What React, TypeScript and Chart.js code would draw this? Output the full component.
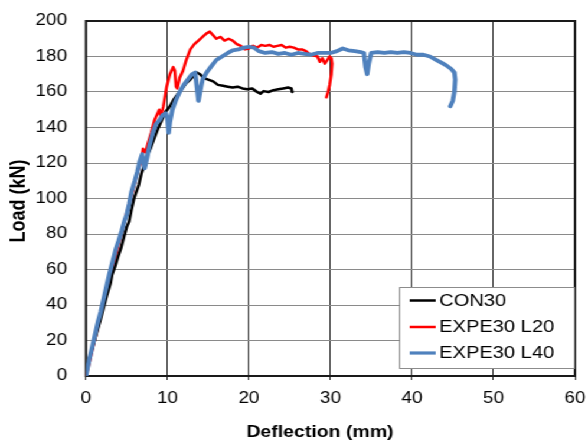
import { useEffect, useRef } from 'react';
import { Chart, registerables } from 'chart.js';

Chart.register(...registerables);

// ---- Data ----
const xTicks = [0, 10, 20, 30, 40, 50, 60];
const yTicks = [0, 20, 40, 60, 80, 100, 120, 140, 160, 180, 200];

const seriesLabels = ['CON30', 'EXPE30 L20', 'EXPE30 L40'];
const xTitle = 'Deflection (mm)';
const yTitle = 'Load (kN)';

const con30X = [0, 0.3, 0.8, 1.3, 1.8, 2.2, 2.6, 3.0, 3.2, 3.6, 4.0, 4.3, 4.7, 5.0, 5.3, 5.6, 5.9, 6.2, 6.5, 6.8, 7.1, 7.5, 7.9, 8.3, 8.8, 9.3, 9.8, 10.3, 10.8, 11.3, 11.8, 12.3, 12.8, 13.2, 13.6, 14.0, 14.4, 15.0, 15.6, 16.2, 16.8, 17.4, 18.0, 18.6, 19.2, 19.8, 20.4, 21.0, 21.4, 21.8, 22.4, 23.0, 23.6, 24.2, 24.8, 25.2, 25.3];
const con30Y = [0, 8, 16, 24, 32, 39, 46, 52, 57, 62, 68, 72, 79, 84, 87, 94, 100, 104, 108, 114, 118, 124, 128, 133, 139, 144, 149, 152, 156, 159, 162, 165, 167, 169, 171, 170, 168, 167, 166, 164, 163.5, 163, 162.5, 163, 162, 161.5, 162, 160, 159, 160.5, 160, 161, 161.5, 162, 162.5, 162, 160];

const l20X = [0, 0.5, 1.0, 1.5, 2.0, 2.5, 3.0, 3.5, 4.0, 4.5, 5.0, 5.5, 6.0, 6.4, 6.8, 7.0, 7.3, 7.6, 8.0, 8.4, 8.7, 9.0, 9.2, 9.5, 9.9, 10.3, 10.7, 10.9, 11.05, 11.2, 11.5, 11.9, 12.3, 12.8, 13.3, 13.8, 14.3, 14.8, 15.2, 15.6, 16.0, 16.5, 17.0, 17.5, 18.0, 18.5, 19.0, 19.5, 20.0, 20.5, 21.0, 21.5, 22.0, 22.5, 23.0, 23.5, 24.0, 24.5, 25.0, 25.5, 26.0, 26.5, 27.0, 27.5, 28.0, 28.4, 28.7, 29.0, 29.3, 29.6, 29.9, 30.1, 30.2, 30.1, 29.9, 29.7, 29.5];
const l20Y = [0, 9, 19, 28, 38, 47, 56, 65, 74, 83, 92, 100, 109, 116, 122, 128, 126, 131, 137, 144, 147, 150, 146, 152, 163, 170, 174, 172, 163, 162, 168, 172, 178, 184, 187, 189, 191, 193, 194, 192, 190, 191, 189, 190, 189, 187, 186, 184, 184.5, 186, 185, 186.5, 186, 186.5, 185.5, 186, 186.5, 185, 185.5, 185, 184, 184, 183, 181, 180.5, 180, 177, 179, 176, 178, 180, 179, 176, 170, 164, 160, 157];

const l40X = [0, 0.4, 0.8, 1.2, 1.5, 1.8, 2.2, 2.6, 2.9, 3.3, 3.7, 4.0, 4.4, 4.7, 5.0, 5.3, 5.6, 6.0, 6.3, 6.6, 6.9, 7.2, 7.5, 7.8, 8.2, 8.6, 9.0, 9.4, 9.8, 10.0, 10.15, 10.3, 10.6, 11.0, 11.5, 12.0, 12.5, 13.0, 13.4, 13.6, 13.8, 14.0, 14.3, 14.8, 15.3, 16.0, 16.7, 17.4, 18.0, 18.7, 19.4, 20.0, 20.6, 21.2, 22.0, 22.8, 23.6, 24.4, 25.2, 26.0, 26.8, 27.6, 28.4, 29.2, 30.0, 30.8, 31.5, 32.2, 33.0, 33.7, 34.1, 34.3, 34.5, 34.7, 35.0, 35.8, 36.6, 37.4, 38.2, 39.0, 39.8, 40.6, 41.4, 42.2, 43.0, 43.6, 44.2, 44.8, 45.2, 45.3, 45.2, 45.0, 44.7];
const l40Y = [0, 9, 17, 25, 31, 36, 44, 52, 58, 65, 72, 76, 82, 87, 91, 97, 104, 110, 115, 121, 125, 117, 123, 130, 137, 142, 144, 147, 148, 145, 137, 143, 150, 155, 160, 164, 167, 170, 171, 163, 155, 160, 167, 171, 174, 178, 180, 182, 183.5, 184, 185, 185.5, 185, 183, 182, 182.5, 181.5, 182, 181, 182, 181.5, 181, 182, 182, 182, 183, 184.5, 183.5, 183, 182.5, 182, 174, 170, 176, 182, 182.5, 182, 182.5, 182, 182.5, 182, 181, 181, 180, 178, 176.5, 175, 173, 171, 167, 160, 155, 152];

const toPoints = (xs: number[], ys: number[]) => xs.map((x, i) => ({ x, y: ys[i] }));

// ---- Layout ----
const W = 498;
const H = 446;
const SX = 588 / W;
const FONT = "'Liberation Sans', Arial, sans-serif";

const zeroPadding = (scale: any) => {
  scale.paddingLeft = 0;
  scale.paddingRight = 0;
  scale.paddingTop = 0;
  scale.paddingBottom = 0;
};

const borderPlugin = {
  id: 'plotBorder',
  beforeDatasetsDraw(chart: any) {
    const { ctx, chartArea: a } = chart;
    ctx.save();
    ctx.strokeStyle = '#1a1a1a';
    ctx.lineWidth = 2;
    ctx.strokeRect(a.left, a.top, a.right - a.left, a.bottom - a.top);
    ctx.restore();
  },
};

const titlesPlugin = {
  id: 'axisTitles',
  afterDraw(chart: any) {
    const { ctx } = chart;
    ctx.save();
    ctx.fillStyle = '#000';
    ctx.textAlign = 'center';
    ctx.textBaseline = 'middle';
    ctx.font = `bold 16.5px ${FONT}`;
    ctx.fillText(xTitle, 320 / SX, 432.5);
    ctx.translate(16.2, 201);
    ctx.rotate(-Math.PI / 2);
    ctx.font = `bold 18px ${FONT}`;
    ctx.fillText(yTitle, 0, 0);
    ctx.restore();
  },
};

const legendPlugin = {
  id: 'boxLegend',
  afterDraw(chart: any) {
    const { ctx, chartArea: a } = chart;
    const x0 = 338;
    const x1 = a.right - 1;
    const y0 = 287;
    const y1 = 368;
    ctx.save();
    ctx.fillStyle = '#ffffff';
    ctx.fillRect(x0, y0, x1 - x0, y1 - y0);
    ctx.strokeStyle = '#8c8c8c';
    ctx.lineWidth = 1;
    ctx.strokeRect(x0 + 0.5, y0 + 0.5, x1 - x0, y1 - y0);
    const rows = [300.5, 327, 353];
    chart.data.datasets.forEach((ds: any, i: number) => {
      const y = rows[i];
      ctx.strokeStyle = ds.borderColor;
      ctx.lineWidth = Math.min(ds.borderWidth, 3.2);
      ctx.beginPath();
      ctx.moveTo(347, y);
      ctx.lineTo(369, y);
      ctx.stroke();
      ctx.fillStyle = '#000';
      ctx.font = `17px ${FONT}`;
      ctx.textBaseline = 'middle';
      ctx.textAlign = 'left';
      ctx.fillText(ds.label, 372, y + 0.5);
    });
    ctx.restore();
  },
};

export default function App() {
  const ref = useRef<HTMLCanvasElement | null>(null);

  useEffect(() => {
    if (!ref.current) return;
    document.body.style.margin = '0';
    const chart = new Chart(ref.current, {
      type: 'line',
      data: {
        datasets: [
          {
            label: seriesLabels[0],
            data: toPoints(con30X, con30Y),
            borderColor: '#000000',
            borderWidth: 2.5,
            pointRadius: 0,
            tension: 0,
            order: 1,
          },
          {
            label: seriesLabels[1],
            data: toPoints(l20X, l20Y),
            borderColor: '#ff0000',
            borderWidth: 2.5,
            pointRadius: 0,
            tension: 0,
            order: 2,
          },
          {
            label: seriesLabels[2],
            data: toPoints(l40X, l40Y),
            borderColor: '#4f81bd',
            borderWidth: 3.8,
            pointRadius: 0,
            tension: 0,
            order: 0,
          },
        ],
      },
      options: {
        responsive: false,
        animation: false,
        devicePixelRatio: 1,
        layout: { padding: { top: 21, right: 11, bottom: 0, left: 0 } },
        plugins: {
          legend: { display: false },
          tooltip: { enabled: false },
        },
        elements: { line: { borderJoinStyle: 'round', borderCapStyle: 'round' } },
        scales: {
          x: {
            type: 'linear',
            min: xTicks[0],
            max: xTicks[xTicks.length - 1],
            afterBuildTicks: (scale: any) => {
              scale.ticks = xTicks.map((v) => ({ value: v }));
            },
            afterFit: (scale: any) => {
              scale.height = 70;
              zeroPadding(scale);
            },
            ticks: {
              color: '#000',
              font: { family: FONT, size: 16 },
              padding: 9,
              maxRotation: 0,
            },
            grid: {
              color: '#333333',
              lineWidth: 1,
              drawTicks: true,
              tickLength: 4,
            },
            border: { display: false },
            title: { display: false },
          },
          y: {
            type: 'linear',
            min: yTicks[0],
            max: yTicks[yTicks.length - 1],
            afterBuildTicks: (scale: any) => {
              scale.ticks = yTicks.map((v) => ({ value: v }));
            },
            afterFit: (scale: any) => {
              scale.width = 72.8;
              zeroPadding(scale);
            },
            ticks: {
              color: '#000',
              font: { family: FONT, size: 16 },
              padding: 16,
            },
            grid: {
              color: '#8a8a8a',
              lineWidth: 1,
              drawTicks: false,
            },
            border: { display: false },
            title: { display: false },
          },
        },
      } as any,
      plugins: [borderPlugin, titlesPlugin, legendPlugin],
    });
    return () => chart.destroy();
  }, []);

  return (
    <div
      style={{
        position: 'absolute',
        left: 0,
        top: 0,
        width: W,
        height: H,
        transform: `scaleX(${SX})`,
        transformOrigin: '0 0',
        background: '#fff',
      }}
    >
      <canvas ref={ref} width={W} height={H} style={{ display: 'block', width: W, height: H }} />
    </div>
  );
}
